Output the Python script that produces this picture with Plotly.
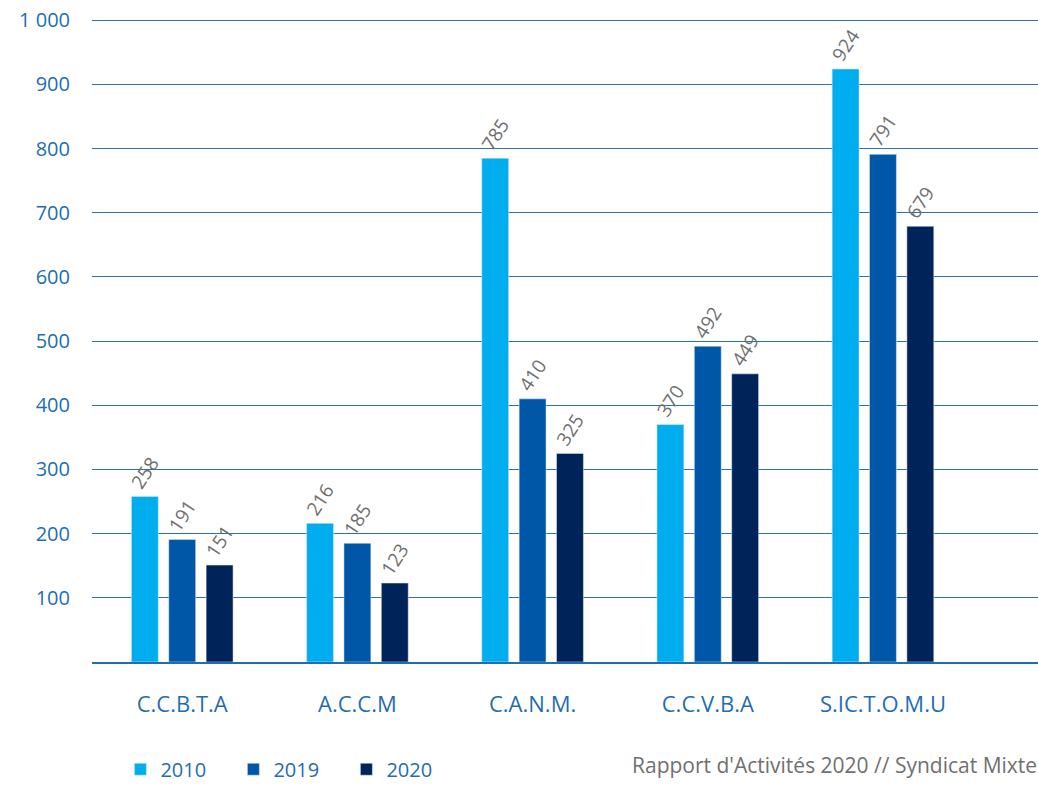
import plotly.graph_objects as go

categories = ["C.C.B.T.A", "A.C.C.M", "C.A.N.M.", "C.C.V.B.A", "S.IC.T.O.M.U"]
series_names = ["2010", "2019", "2020"]
values_2010 = [258, 216, 785, 370, 924]
values_2019 = [191, 185, 410, 492, 791]
values_2020 = [151, 123, 325, 449, 679]
y_ticks = [100, 200, 300, 400, 500, 600, 700, 800, 900, 1000]
colors = ["#00AEEF", "#0057A8", "#00235A"]
footer = "Rapport d'Activités 2020 // Syndicat Mixte"

FONT = "'Open Sans', Lato, sans-serif"
BLUE = "#1F6DB5"

fig = go.Figure()
for name, vals, col in zip(series_names, [values_2010, values_2019, values_2020], colors):
    fig.add_trace(go.Bar(
        x=categories, y=vals, name=name, marker_color=col,
        text=[str(v) for v in vals], textposition="outside", textangle=-57,
        constraintext="none",
        textfont=dict(family=FONT, size=19, color="#6e6e6e"),
        cliponaxis=False,
    ))

fig.update_layout(
    width=1038, height=785,
    margin=dict(l=92, r=0, t=17, b=123, autoexpand=False),
    paper_bgcolor="white", plot_bgcolor="white",
    barmode="group", bargap=0.36, bargroupgap=0.28,
    separators=", ",
    font=dict(family=FONT, color=BLUE),
    legend=dict(orientation="h", x=0.03, y=-0.136, xanchor="left", yanchor="top",
                font=dict(family=FONT, size=20, color=BLUE), itemwidth=30,
                entrywidth=68, entrywidthmode="pixels",
                traceorder="normal"),
    showlegend=True,
)
fig.update_xaxes(range=[-0.515, 4.885], showgrid=False, showline=True, linecolor="#1F6DB5",
                 linewidth=1.5, ticks="outside", ticklen=22, tickcolor="rgba(0,0,0,0)",
                 automargin=False,
                 tickfont=dict(family=FONT, size=22, color=BLUE))
fig.update_yaxes(range=[0, 1005], tickvals=y_ticks, tickformat=",d", showgrid=True,
                 gridcolor="#2E6FB3", gridwidth=1, zeroline=False, showline=False,
                 ticks="outside", ticklen=17, tickcolor="rgba(0,0,0,0)",
                 automargin=False, ticklabeloverflow="allow",
                 tickfont=dict(family=FONT, size=20, color=BLUE))
fig.add_annotation(text=footer, xref="paper", yref="paper", x=0.569, y=-0.16,
                   xanchor="left", yanchor="middle", showarrow=False,
                   font=dict(family=FONT, size=21, color="#707070"))
fig.write_html("out.html", config={"displayModeBar": False},
               post_script="document.body.style.margin='0';document.body.style.overflow='hidden';")
